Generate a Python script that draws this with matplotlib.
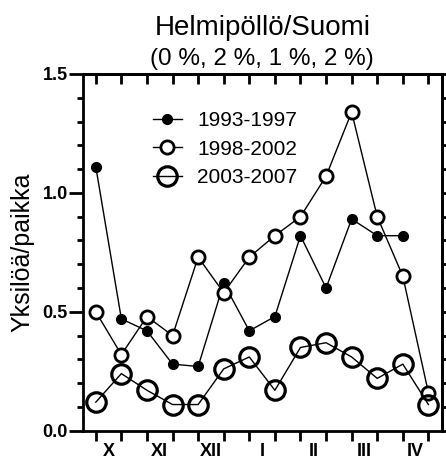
import numpy as np
import matplotlib
matplotlib.use("Agg")
import matplotlib.pyplot as plt
from matplotlib.ticker import MultipleLocator

plt.rcParams['font.family'] = ['Liberation Sans', 'DejaVu Sans']

# half-month counting periods, October to April
months = ["X", "XI", "XII", "I", "II", "III", "IV"]
idx = np.arange(14)

y9397 = [1.11, 0.47, 0.42, 0.28, 0.27, 0.62, 0.42, 0.48, 0.82, 0.60, 0.89, 0.82, 0.82, np.nan]
y9802 = [0.50, 0.32, 0.48, 0.40, 0.73, 0.58, 0.73, 0.82, 0.90, 1.07, 1.34, 0.90, 0.65, 0.16]
y0307 = [0.12, 0.24, 0.17, 0.11, 0.11, 0.26, 0.31, 0.17, 0.35, 0.37, 0.31, 0.22, 0.28, 0.11]

fig = plt.figure(figsize=(4.46, 4.61), dpi=100)
ax = fig.add_axes([83/446, 1 - 430.7/461, (441.7 - 83)/446, (430.7 - 74)/461])

ax.plot(idx, y9397, '-o', color='k', lw=1, ms=7, mfc='k', mec='k', label='1993-1997')
ax.plot(idx, y9802, '-o', color='k', lw=1, ms=9.5, mfc='white', mec='k', mew=2, label='1998-2002')
ax.plot(idx, y0307, '-o', color='k', lw=1, ms=14, mfc='none', mec='k', mew=2.3, label='2003-2007')

ax.set_xlim(-0.5, 13.52)
ax.set_ylim(0, 1.5)

for s in ax.spines.values():
    s.set_linewidth(2)

# bottom: ticks at every point, month names centred between pairs
ax.set_xticks(idx)
ax.set_xticklabels([])
ax.set_xticks(np.arange(0.5, 14, 2), minor=True)
ax.set_xticklabels(months, minor=True, fontweight='bold', fontsize=13)
ax.tick_params(axis='x', which='major', direction='out', length=7, width=2)
ax.tick_params(axis='x', which='minor', length=0, pad=8.5)

ax.yaxis.set_major_locator(MultipleLocator(0.5))
ax.yaxis.set_minor_locator(MultipleLocator(0.1))
ax.yaxis.set_major_formatter(lambda v, p: f"{v:.1f}")
ax.tick_params(axis='y', which='major', direction='out', length=10, width=2, labelsize=13, pad=1)
ax.tick_params(axis='y', which='minor', direction='out', length=4, width=2)
for t in ax.get_yticklabels():
    t.set_fontweight('bold')

top = ax.secondary_xaxis('top')
top.set_xticks(idx)
top.tick_params(direction='in', length=7, width=2, labeltop=False)
top.spines['top'].set_linewidth(2)

right = ax.secondary_yaxis('right')
right.set_yticks(np.arange(0, 1.51, 0.1))
right.tick_params(direction='out', length=3, width=2, labelright=False)
right.spines['right'].set_linewidth(2)

ax.set_ylabel("Yksilöä/paikka", fontsize=18, labelpad=6)

xc = 0.5 * (83 + 441.7) / 446
fig.text(xc, 1 - 35/461, "Helmipöllö/Suomi", ha='center', va='baseline', fontsize=20)
fig.text(xc, 1 - 65/461, "(0 %, 2 %, 1 %, 2 %)", ha='center', va='baseline', fontsize=17.5)

leg = ax.legend(loc='upper left', bbox_to_anchor=(0.165, 0.925), frameon=False, fontsize=15,
                handlelength=1.4, handletextpad=0.75, labelspacing=0.45, borderpad=0)

fig.savefig("out.png", dpi=100)
